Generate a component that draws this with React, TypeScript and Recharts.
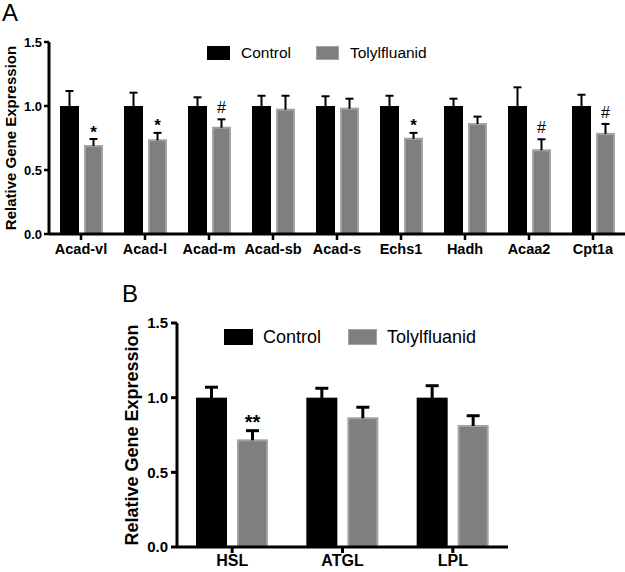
import React from 'react';
import { BarChart, Bar, XAxis, YAxis, Legend } from 'recharts';

// ---------- Data ----------
const genesA = ['Acad-vl', 'Acad-l', 'Acad-m', 'Acad-sb', 'Acad-s', 'Echs1', 'Hadh', 'Acaa2', 'Cpt1a'];
const controlA = [1, 1, 1, 1, 1, 1, 1, 1, 1];
const controlErrA = [0.117, 0.104, 0.068, 0.08, 0.076, 0.08, 0.057, 0.146, 0.088];
const tolylA = [0.695, 0.74, 0.838, 0.979, 0.987, 0.752, 0.867, 0.662, 0.79];
const tolylErrA = [0.047, 0.05, 0.058, 0.101, 0.07, 0.038, 0.05, 0.078, 0.07];
const sigA = ['*', '*', '#', '', '', '*', '', '#', '#'];

const genesB = ['HSL', 'ATGL', 'LPL'];
const controlB = [1, 1, 1];
const controlErrB = [0.07, 0.063, 0.08];
const tolylB = [0.721, 0.869, 0.817];
const tolylErrB = [0.058, 0.067, 0.062];
const sigB = ['**', '', ''];

const yTicks = [0, 0.5, 1.0, 1.5];
const seriesNames = ['Control', 'Tolylfluanid'];

const FONT = '"Liberation Sans", Arial, Helvetica, sans-serif';
const CONTROL_FILL = '#000000';
const TOLYL_FILL = '#7f7f7f';
const TOLYL_STROKE = '#a3a3a3';

const tableA = genesA.map((g, i) => ({
  gene: g,
  control: controlA[i],
  controlErr: controlErrA[i],
  tolyl: tolylA[i],
  tolylErr: tolylErrA[i],
  sig: sigA[i],
}));

const tableB = genesB.map((g, i) => ({
  gene: g,
  control: controlB[i],
  controlErr: controlErrB[i],
  tolyl: tolylB[i],
  tolylErr: tolylErrB[i],
  sig: sigB[i],
}));

type ShapeOpts = {
  errKey: string;
  fill: string;
  stroke?: string;
  capW: number;
  stemW: number;
  showSig: boolean;
  starSize: number;
  hashSize: number;
};

function makeShape(o: ShapeOpts) {
  return (props: any) => {
    const { x, y, width, height, payload, value } = props;
    const v = Array.isArray(value) ? value[1] - value[0] : value;
    const ppu = v ? height / v : 0;
    const err = payload[o.errKey] || 0;
    const top = y - err * ppu;
    const cx = x + width / 2;
    const sig: string = o.showSig ? payload.sig : '';
    const isStar = sig.startsWith('*');
    return (
      <g>
        {o.stroke ? (
          <rect x={x + 1} y={y + 1} width={width - 2} height={Math.max(0, height - 1)} fill={o.fill} stroke={o.stroke} strokeWidth={2} />
        ) : (
          <rect x={x} y={y} width={width} height={height} fill={o.fill} />
        )}
        <line x1={cx} x2={cx} y1={top} y2={y + 1} stroke="#000" strokeWidth={o.stemW} />
        <line x1={cx - o.capW / 2} x2={cx + o.capW / 2} y1={top} y2={top} stroke="#000" strokeWidth={o.stemW} />
        {sig ? (
          <text
            x={cx}
            y={isStar ? top - 1.5 : top - 6}
            textAnchor="middle"
            fontFamily={FONT}
            fontWeight={isStar ? 700 : 400}
            fontSize={isStar ? o.starSize : o.hashSize}
            fill="#000"
          >
            {sig}
          </text>
        ) : null}
      </g>
    );
  };
}

function makeLegend(cfg: { left1: number; left2: number; top: number; sw: number; sh: number; gap: number; fontSize: number }) {
  return (props: any) => {
    const payload = props.payload || [];
    const lefts = [cfg.left1, cfg.left2];
    return (
      <div style={{ position: 'relative', width: 0, height: 0 }}>
        {payload.map((p: any, i: number) => (
          <div
            key={i}
            style={{
              position: 'absolute',
              left: lefts[i],
              top: cfg.top,
              display: 'flex',
              alignItems: 'center',
              height: cfg.sh,
              whiteSpace: 'nowrap',
            }}
          >
            <div
              style={{
                width: i === 1 ? cfg.sw - 2 : cfg.sw,
                height: i === 1 ? cfg.sh - 2 : cfg.sh,
                background: i === 1 ? TOLYL_FILL : CONTROL_FILL,
                border: i === 1 ? `1px solid ${TOLYL_STROKE}` : 'none',
                marginRight: cfg.gap,
              }}
            />
            <span style={{ fontFamily: FONT, fontSize: cfg.fontSize, color: '#000', lineHeight: 1 }}>{p.value}</span>
          </div>
        ))}
      </div>
    );
  };
}

function yLabel(x: number, fontSize: number) {
  return (props: any) => {
    const vb = props.viewBox || {};
    const cy = (vb.y || 0) + (vb.height || 0) / 2;
    return (
      <text
        x={x}
        y={cy}
        transform={`rotate(-90, ${x}, ${cy})`}
        textAnchor="middle"
        dominantBaseline="central"
        fontFamily={FONT}
        fontWeight={700}
        fontSize={fontSize}
        fill="#000"
      >
        Relative Gene Expression
      </text>
    );
  };
}

export default function App() {
  return (
    <div
      style={{
        position: 'absolute',
        left: 0,
        top: 0,
        width: 625,
        height: 572,
        background: '#fff',
        overflow: 'hidden',
        fontFamily: FONT,
      }}
    >
      <div style={{ position: 'absolute', left: 2, top: -1, fontFamily: FONT, fontSize: 24, lineHeight: '28px', color: '#000' }}>A</div>
      <div style={{ position: 'absolute', left: 122, top: 280, fontFamily: FONT, fontSize: 24, lineHeight: '28px', color: '#000' }}>B</div>

      <div style={{ position: 'absolute', left: 0, top: 0 }}>
        <BarChart
          width={625}
          height={265}
          data={tableA}
          margin={{ top: 42, right: 0, bottom: 0, left: 0 }}
          barSize={19}
          barGap={5}
        >
          <XAxis
            dataKey="gene"
            interval={0}
            height={31}
            tickSize={6}
            tickMargin={4}
            axisLine={{ stroke: '#000', strokeWidth: 3 }}
            tickLine={{ stroke: '#000', strokeWidth: 2.5 }}
            tick={{ fill: '#000', fontSize: 14.5, fontWeight: 700, fontFamily: FONT }}
          />
          <YAxis
            width={49}
            domain={[0, 1.5]}
            ticks={yTicks}
            interval={0}
            tickFormatter={(v: number) => v.toFixed(1)}
            tickSize={5}
            tickMargin={2}
            axisLine={{ stroke: '#000', strokeWidth: 3 }}
            tickLine={{ stroke: '#000', strokeWidth: 2.5 }}
            tick={{ fill: '#000', fontSize: 13, fontWeight: 700, fontFamily: FONT }}
            label={{ content: yLabel(10, 15) }}
          />
          <Legend
            layout="horizontal"
            verticalAlign="middle"
            align="center"
            wrapperStyle={{ left: 0, top: 0, width: 0, height: 0 }}
            content={makeLegend({ left1: 207, left2: 316, top: 46, sw: 23, sh: 14, gap: 11, fontSize: 15.5 })}
          />
          <Bar
            dataKey="control"
            name={seriesNames[0]}
            fill={CONTROL_FILL}
            isAnimationActive={false}
            shape={makeShape({ errKey: 'controlErr', fill: CONTROL_FILL, capW: 8, stemW: 2, showSig: false, starSize: 17, hashSize: 16 })}
          />
          <Bar
            dataKey="tolyl"
            name={seriesNames[1]}
            fill={TOLYL_FILL}
            isAnimationActive={false}
            shape={makeShape({ errKey: 'tolylErr', fill: TOLYL_FILL, stroke: TOLYL_STROKE, capW: 8, stemW: 2, showSig: true, starSize: 17, hashSize: 16 })}
          />
        </BarChart>
      </div>

      <div style={{ position: 'absolute', left: 0, top: 270 }}>
        <BarChart
          width={625}
          height={302}
          data={tableB}
          margin={{ top: 53, right: 117, bottom: 0, left: 0 }}
          barSize={31}
          barGap={10}
        >
          <XAxis
            dataKey="gene"
            interval={0}
            height={25}
            tickSize={6}
            tickMargin={2}
            axisLine={{ stroke: '#000', strokeWidth: 3 }}
            tickLine={{ stroke: '#000', strokeWidth: 3 }}
            tick={{ fill: '#000', fontSize: 16, fontWeight: 700, fontFamily: FONT }}
          />
          <YAxis
            width={177}
            domain={[0, 1.5]}
            ticks={yTicks}
            interval={0}
            tickFormatter={(v: number) => v.toFixed(1)}
            tickSize={6}
            tickMargin={3}
            axisLine={{ stroke: '#000', strokeWidth: 3 }}
            tickLine={{ stroke: '#000', strokeWidth: 3 }}
            tick={{ fill: '#000', fontSize: 15, fontWeight: 700, fontFamily: FONT }}
            label={{ content: yLabel(132, 18) }}
          />
          <Legend
            layout="horizontal"
            verticalAlign="middle"
            align="center"
            wrapperStyle={{ left: 0, top: 0, width: 0, height: 0 }}
            content={makeLegend({ left1: 224, left2: 348, top: 59, sw: 29, sh: 16, gap: 10, fontSize: 18 })}
          />
          <Bar
            dataKey="control"
            name={seriesNames[0]}
            fill={CONTROL_FILL}
            isAnimationActive={false}
            shape={makeShape({ errKey: 'controlErr', fill: CONTROL_FILL, capW: 13, stemW: 3, showSig: false, starSize: 20, hashSize: 18 })}
          />
          <Bar
            dataKey="tolyl"
            name={seriesNames[1]}
            fill={TOLYL_FILL}
            isAnimationActive={false}
            shape={makeShape({ errKey: 'tolylErr', fill: TOLYL_FILL, stroke: TOLYL_STROKE, capW: 13, stemW: 3, showSig: true, starSize: 20, hashSize: 18 })}
          />
        </BarChart>
      </div>
    </div>
  );
}
